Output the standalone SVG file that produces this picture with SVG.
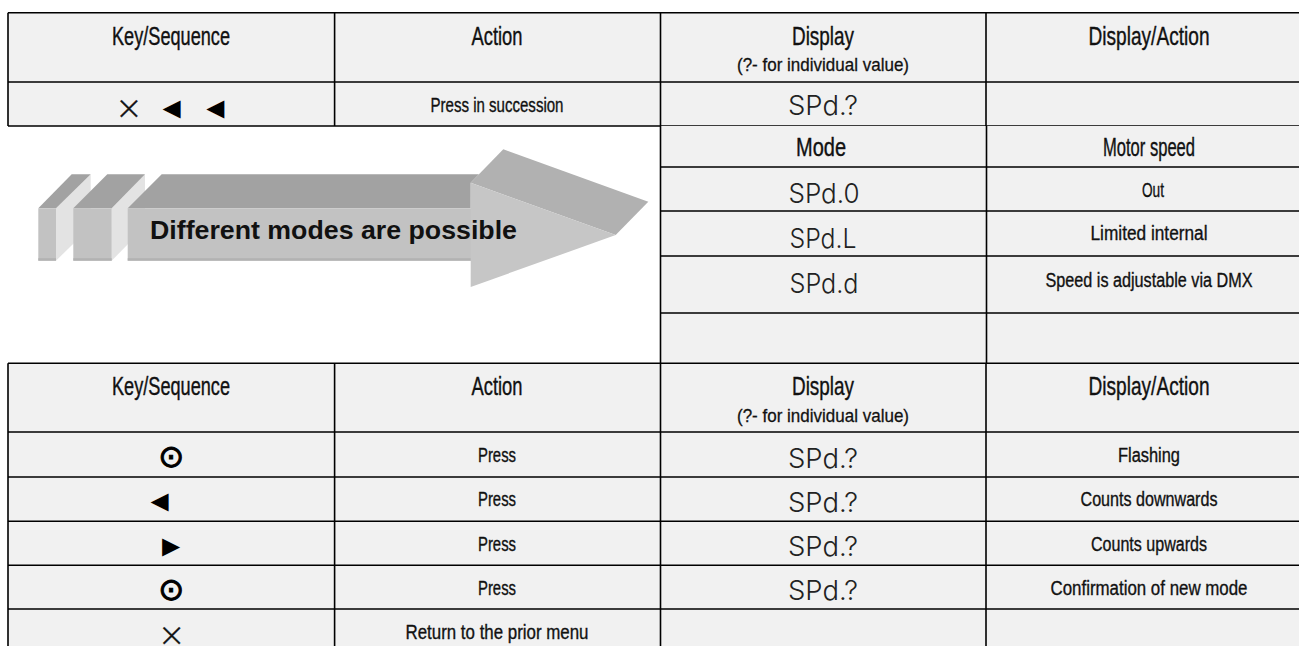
<svg xmlns="http://www.w3.org/2000/svg" width="1299" height="646" viewBox="0 0 1299 646">
<style>
.cell{fill:#f1f1f1}
.ln{stroke:#000;stroke-width:1.6;fill:none}
.h{font-family:"Liberation Sans",Arial,sans-serif;font-size:26px;fill:#111;stroke:#111;stroke-width:0.4;text-anchor:middle}
.sub{font-family:"Liberation Sans",Arial,sans-serif;font-size:19px;fill:#111;stroke:#111;stroke-width:0.3;text-anchor:middle}
.b{font-family:"Liberation Sans",Arial,sans-serif;font-size:20px;fill:#111;stroke:#111;stroke-width:0.35;text-anchor:middle}
.seg{font-family:Inter,Lato,"Open Sans","DejaVu Sans",sans-serif;font-weight:300;font-size:27px;fill:#222;text-anchor:middle}
.sym{font-family:"Liberation Sans","DejaVu Sans",sans-serif;font-size:30px;fill:#000;text-anchor:middle}
.x{font-family:Inter,Lato,"Open Sans","DejaVu Sans",sans-serif;font-weight:200;font-size:40px;fill:#111;stroke:#111;stroke-width:0.3;text-anchor:middle}
.dot{font-family:"DejaVu Sans",sans-serif;font-size:31px;fill:#000;stroke:#000;stroke-width:1;text-anchor:middle}
.side{fill:#e3e3e3}
.top{fill:#a2a2a2}
.front{fill:#c2c2c2}
.band{fill:#b2b2b2}
.htop{fill:#b1b1b1}
.hfront{fill:#c6c6c6}
.atext{font-family:"Liberation Sans",Arial,sans-serif;font-weight:bold;font-size:26px;fill:#111}
</style>

<g id="table-top">
<rect class="cell" x="8" y="12.7" width="1304" height="113.3"/>
<path class="ln" d="M8 12.7H1299M8 82H1299M8 126H1299M8 12.7V126M334.6 12.7V126M660.5 12.7V126M986 12.7V126"/>
<text class="h" x="171" y="45" textLength="118" lengthAdjust="spacingAndGlyphs">Key/Sequence</text>
<text class="h" x="497" y="45" textLength="51" lengthAdjust="spacingAndGlyphs">Action</text>
<text class="h" x="823" y="45" textLength="62" lengthAdjust="spacingAndGlyphs">Display</text>
<text class="sub" x="823" y="71" textLength="172" lengthAdjust="spacingAndGlyphs">(?- for individual value)</text>
<text class="h" x="1149" y="45" textLength="121" lengthAdjust="spacingAndGlyphs">Display/Action</text>
<text class="x" x="128.8" y="119.5">×</text>
<text class="sym" x="171.7" y="117.7">◄</text>
<text class="sym" x="215.3" y="117.7">◄</text>
<text class="b" x="497" y="112" textLength="133" lengthAdjust="spacingAndGlyphs">Press in succession</text>
<text class="seg" x="823" y="115" textLength="70" lengthAdjust="spacingAndGlyphs">SPd.?</text>
</g>

<g id="mode-table">
<rect class="cell" x="660.5" y="126" width="652" height="237.3"/>
<path class="ln" d="M660.5 167H1299M660.5 211H1299M660.5 256H1299M660.5 313H1299M660.5 126V363.3M986.5 126V363.3"/>
<text class="h" x="821" y="156" textLength="50" lengthAdjust="spacingAndGlyphs">Mode</text>
<text class="h" x="1149" y="156" textLength="92" lengthAdjust="spacingAndGlyphs">Motor speed</text>
<text class="seg" x="824" y="203" textLength="71" lengthAdjust="spacingAndGlyphs">SPd.0</text>
<text class="b" x="1153" y="197" textLength="22" lengthAdjust="spacingAndGlyphs">Out</text>
<text class="seg" x="823" y="248" textLength="67" lengthAdjust="spacingAndGlyphs">SPd.L</text>
<text class="b" x="1149" y="240" textLength="117" lengthAdjust="spacingAndGlyphs">Limited internal</text>
<text class="seg" x="824" y="293" textLength="69" lengthAdjust="spacingAndGlyphs">SPd.d</text>
<text class="b" x="1149" y="287" textLength="207" lengthAdjust="spacingAndGlyphs">Speed is adjustable via DMX</text>
</g>

<g id="arrow">
<polygon class="side" points="56,208.3 90.7,174.3 90.7,226.7 56,260.7"/>
<polygon class="top" points="38.3,208.3 71.7,174.3 90.7,174.3 56,208.3"/>
<rect class="front" x="38.3" y="208.3" width="17.7" height="52.4"/>
<rect class="band" x="38.3" y="258.2" width="17.7" height="2.5"/>
<polygon class="side" points="111.7,208.3 145,174.3 145,226.7 111.7,260.7"/>
<polygon class="top" points="73.3,208.3 107.3,174.3 145,174.3 111.7,208.3"/>
<rect class="front" x="73.3" y="208.3" width="38.4" height="52.4"/>
<rect class="band" x="73.3" y="258.2" width="38.4" height="2.5"/>
<polygon class="top" points="127.7,208.3 161.7,174.3 479,174.3 470.7,182.7 470.7,208.3"/>
<rect class="front" x="127.7" y="208.3" width="343.5" height="52.4"/>
<rect class="band" x="127.7" y="258.2" width="343.5" height="2.5"/>
<polygon class="htop" points="470.7,182.7 503.3,149.3 648.3,201.7 615.7,235"/>
<polygon class="hfront" points="470.7,182.7 615.7,235 470.7,287"/>
<text class="atext" x="150" y="239" textLength="367" lengthAdjust="spacingAndGlyphs">Different modes are possible</text>
</g>

<g id="table-bottom">
<rect class="cell" x="8" y="363.3" width="1304" height="290"/>
<path class="ln" d="M8 363.3H1299M8 432H1299M8 477H1299M8 521.3H1299M8 565.3H1299M8 609H1299M8 363.3V646M334.6 363.3V646M660.5 363.3V646M986 363.3V646"/>
<text class="h" x="171" y="395" textLength="118" lengthAdjust="spacingAndGlyphs">Key/Sequence</text>
<text class="h" x="497" y="395" textLength="51" lengthAdjust="spacingAndGlyphs">Action</text>
<text class="h" x="823" y="395" textLength="62" lengthAdjust="spacingAndGlyphs">Display</text>
<text class="sub" x="823" y="422" textLength="172" lengthAdjust="spacingAndGlyphs">(?- for individual value)</text>
<text class="h" x="1149" y="395" textLength="121" lengthAdjust="spacingAndGlyphs">Display/Action</text>

<text class="dot" x="171.2" y="467.2">⊙</text>
<text class="b" x="497" y="461.5" textLength="38" lengthAdjust="spacingAndGlyphs">Press</text>
<text class="seg" x="823" y="468" textLength="70" lengthAdjust="spacingAndGlyphs">SPd.?</text>
<text class="b" x="1149" y="461.5" textLength="62" lengthAdjust="spacingAndGlyphs">Flashing</text>

<text class="sym" x="159.7" y="511.3">◄</text>
<text class="b" x="497" y="506" textLength="38" lengthAdjust="spacingAndGlyphs">Press</text>
<text class="seg" x="823" y="512" textLength="70" lengthAdjust="spacingAndGlyphs">SPd.?</text>
<text class="b" x="1149" y="506" textLength="137" lengthAdjust="spacingAndGlyphs">Counts downwards</text>

<text class="sym" x="171.2" y="556.3">►</text>
<text class="b" x="497" y="550.5" textLength="38" lengthAdjust="spacingAndGlyphs">Press</text>
<text class="seg" x="823" y="556" textLength="70" lengthAdjust="spacingAndGlyphs">SPd.?</text>
<text class="b" x="1149" y="550.5" textLength="116" lengthAdjust="spacingAndGlyphs">Counts upwards</text>

<text class="dot" x="171.2" y="600.2">⊙</text>
<text class="b" x="497" y="594.5" textLength="38" lengthAdjust="spacingAndGlyphs">Press</text>
<text class="seg" x="823" y="600" textLength="70" lengthAdjust="spacingAndGlyphs">SPd.?</text>
<text class="b" x="1149" y="594.5" textLength="197" lengthAdjust="spacingAndGlyphs">Confirmation of new mode</text>

<text class="x" x="171.7" y="646.5">×</text>
<text class="b" x="497" y="639" textLength="183" lengthAdjust="spacingAndGlyphs">Return to the prior menu</text>
</g>
</svg>
